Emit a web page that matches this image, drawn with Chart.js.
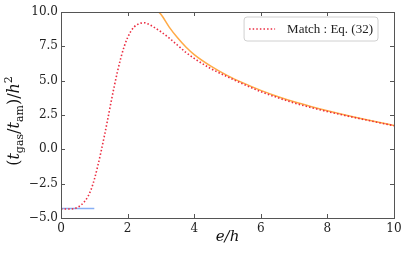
<!DOCTYPE html>
<html><head><meta charset="utf-8">
<script src="https://cdn.jsdelivr.net/npm/chart.js@4"></script>
<style>html,body{margin:0;padding:0;background:#fff;}#wrap{width:407px;height:260px;}</style>
</head><body><div id="wrap"><canvas id="c" width="407" height="260"></canvas></div>
<script>
// ---- data ----
const redX = [0,0.2,0.4,0.5,0.6,0.7,0.8,0.9,1.0,1.1,1.2,1.3,1.4,1.5,1.6,1.7,1.8,1.9,2.0,2.1,2.2,2.3,2.4,2.5,2.6,2.8,3.0,3.25,3.5,3.75,4.0,4.5,5.0,5.5,6.0,6.5,7.0,7.5,8.0,8.5,9.0,9.5,10];
const redY = [-4.35,-4.35,-4.32,-4.22,-4.06,-3.82,-3.47,-2.95,-2.2,-1.25,-0.2,0.95,2.15,3.4,4.6,5.7,6.68,7.5,8.13,8.6,8.92,9.1,9.19,9.22,9.15,8.88,8.56,8.1,7.58,7.06,6.62,5.88,5.28,4.72,4.2,3.77,3.38,3.05,2.75,2.48,2.22,1.97,1.72];
const orangeX = [2.8,3.0,3.25,3.5,3.75,4.0,4.5,5.0,5.5,6.0,6.5,7.0,7.5,8.0,8.5,9.0,9.5,10];
const orangeY = [10.3,9.83,8.9,8.12,7.45,6.9,6.06,5.37,4.8,4.29,3.85,3.46,3.12,2.81,2.52,2.25,1.99,1.74];
const blueX = [0,1];
const blueY = [-4.3,-4.3];
const xTicks = [0,2,4,6,8,10];
const yTicks = [-5,-2.5,0,2.5,5,7.5,10];
const legendLabel = 'Match : Eq. (32)';
const xTitle = 'e/h';

const pts = (xs, ys) => xs.map((x, i) => ({x: x, y: ys[i]}));
const RED = 'rgb(235,45,65)', ORANGE = 'rgb(255,170,70)', BLUE = 'rgb(135,175,245)';
const FRAME = '#555';

const framePlugin = {
  id: 'frame',
  afterDraw(chart) {
    const ctx = chart.ctx, a = chart.chartArea;
    const xs = chart.scales.x, ys = chart.scales.y;
    ctx.save();
    ctx.strokeStyle = FRAME; ctx.lineWidth = 1;
    ctx.strokeRect(Math.round(a.left) + 0.5, Math.round(a.top) + 0.5, Math.round(a.right - a.left), Math.round(a.bottom - a.top));
    ctx.beginPath();
    const L = 4;
    xTicks.forEach(v => {
      const p = Math.round(xs.getPixelForValue(v)) + 0.5;
      ctx.moveTo(p, a.bottom); ctx.lineTo(p, a.bottom - L);
      ctx.moveTo(p, a.top); ctx.lineTo(p, a.top + L);
    });
    yTicks.forEach(v => {
      const p = Math.round(ys.getPixelForValue(v)) + 0.5;
      ctx.moveTo(a.left, p); ctx.lineTo(a.left + L, p);
      ctx.moveTo(a.right, p); ctx.lineTo(a.right - L, p);
    });
    ctx.stroke();

    // legend (inside the plot, upper right)
    const ds = chart.data.datasets.find(d => d.label);
    ctx.font = '13px "Liberation Serif"';
    const tw = ctx.measureText(ds.label).width;
    const bx1 = a.right - 16, by0 = a.top + 5, bh = 24;
    const bx0 = bx1 - (tw + 48);
    ctx.beginPath();
    const r = 3;
    ctx.moveTo(bx0 + r, by0); ctx.lineTo(bx1 - r, by0); ctx.arcTo(bx1, by0, bx1, by0 + r, r);
    ctx.lineTo(bx1, by0 + bh - r); ctx.arcTo(bx1, by0 + bh, bx1 - r, by0 + bh, r);
    ctx.lineTo(bx0 + r, by0 + bh); ctx.arcTo(bx0, by0 + bh, bx0, by0 + bh - r, r);
    ctx.lineTo(bx0, by0 + r); ctx.arcTo(bx0, by0, bx0 + r, by0, r);
    ctx.closePath();
    ctx.fillStyle = 'rgba(255,255,255,0.85)'; ctx.fill();
    ctx.strokeStyle = '#d0d0d0'; ctx.stroke();
    const ly = by0 + bh / 2;
    ctx.beginPath();
    ctx.strokeStyle = ds.borderColor; ctx.lineWidth = ds.borderWidth;
    ctx.setLineDash(ds.borderDash);
    ctx.moveTo(bx0 + 5, ly); ctx.lineTo(bx0 + 31, ly); ctx.stroke();
    ctx.setLineDash([]);
    ctx.fillStyle = '#222'; ctx.textBaseline = 'middle'; ctx.textAlign = 'left';
    ctx.fillText(ds.label, bx0 + 43, ly + 1);

    // y-axis title with sub/superscripts
    const big = 16, small = 11;
    const parts = [
      ['(', 'n', 0], ['t', 'i', 0], ['gas', 's', 4], ['/', 'n', 0], ['t', 'i', 0], ['am', 's', 4],
      [')', 'n', 0], ['/', 'n', 0], ['h', 'i', 0], ['2', 's', -7]
    ];
    const fontOf = k => k === 'i' ? `italic ${big}px "DejaVu Serif"` : k === 's' ? `${small}px "DejaVu Serif"` : `${big}px "DejaVu Serif"`;
    let total = 0;
    parts.forEach(p => { ctx.font = fontOf(p[1]); p.push(ctx.measureText(p[0]).width); total += p[3]; });
    const cy = (a.top + a.bottom) / 2 + 6, cx = 19;
    ctx.translate(cx, cy); ctx.rotate(-Math.PI / 2);
    ctx.textBaseline = 'alphabetic'; ctx.fillStyle = '#111';
    let u = -total / 2;
    parts.forEach(p => { ctx.font = fontOf(p[1]); ctx.fillText(p[0], u, p[2]); u += p[3]; });
    ctx.restore();
  }
};

new Chart(document.getElementById('c'), {
  type: 'line',
  data: {
    datasets: [
      {label: legendLabel, data: pts(redX, redY), borderColor: RED, borderWidth: 1.6, borderDash: [1.5, 2.1], pointRadius: 0, cubicInterpolationMode: 'monotone', fill: false, order: 1},
      {data: pts(orangeX, orangeY), borderColor: ORANGE, borderWidth: 1.5, pointRadius: 0, cubicInterpolationMode: 'monotone', fill: false, order: 2},
      {data: pts(blueX, blueY), borderColor: BLUE, borderWidth: 1.5, pointRadius: 0, fill: false, order: 3}
    ]
  },
  options: {
    responsive: false, animation: false, devicePixelRatio: 1,
    layout: {padding: {top: 12, right: 13, left: 0, bottom: 0}},
    plugins: {legend: {display: false}, tooltip: {enabled: false}},
    scales: {
      x: {
        type: 'linear', min: 0, max: 10,
        afterBuildTicks: s => { s.ticks = xTicks.map(v => ({value: v})); },
        afterFit: s => { s.height = 42; },
        grid: {display: false, drawTicks: false}, border: {display: false},
        ticks: {padding: 4, color: '#222', font: {family: 'DejaVu Serif', size: 12}, maxRotation: 0, callback: v => String(v)},
        title: {display: true, text: xTitle, color: '#111', font: {family: 'DejaVu Serif', size: 15, style: 'italic'}, padding: {top: 0, bottom: 14}}
      },
      y: {
        type: 'linear', min: -5, max: 10,
        afterBuildTicks: s => { s.ticks = yTicks.map(v => ({value: v})); },
        afterFit: s => { s.width = 61; },
        grid: {display: false, drawTicks: false}, border: {display: false},
        ticks: {padding: 3, color: '#222', font: {family: 'DejaVu Serif', size: 12}, callback: v => (v < 0 ? '\u2212' : '') + Math.abs(v).toFixed(1)}
      }
    }
  },
  plugins: [framePlugin]
});
</script></body></html>
